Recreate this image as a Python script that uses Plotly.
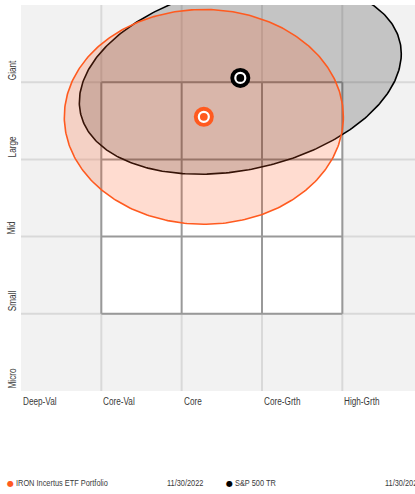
import numpy as np
import plotly.graph_objects as go

# ---- data ----
style_labels = ["Deep-Val", "Core-Val", "Core", "Core-Grth", "High-Grth"]
size_labels = ["Micro", "Small", "Mid", "Large", "Giant"]
series_names = ["IRON Incertus ETF Portfolio", "S&P 500 TR"]
series_dates = ["11/30/2022", "11/30/2022"]
centroid_x = [2.276, 2.730]
centroid_y = [3.551, 4.056]
spread_x = [1.737, 2.004]
spread_y = [1.391, 1.248]
spread_corr = [0.0, 0.251]

# ---- styles ----
ORANGE = "#ff5a1f"
BLACK = "#000000"
line_colors = [ORANGE, BLACK]
fill_colors = ["rgba(255,90,31,0.21)", "rgba(0,0,0,0.19)"]
FONT = "Liberation Sans, Arial, sans-serif"
TXT = "#3a3a3a"

W, H = 415, 494
ML, MR, MT, MB = 21, 0, 5, 103
pw, ph = W - ML - MR, H - MT - MB

fig = go.Figure()
t = np.linspace(0, 2 * np.pi, 361)


def ellipse(i):
    cx, cy, sx, sy, r = centroid_x[i], centroid_y[i], spread_x[i], spread_y[i], spread_corr[i]
    ex = cx + sx * np.cos(t)
    ey = cy + sy * (r * np.cos(t) + np.sqrt(1 - r * r) * np.sin(t))
    return ex, ey


for i in [1, 0]:
    ex, ey = ellipse(i)
    fig.add_trace(go.Scatter(x=ex, y=ey, mode="lines", fill="toself",
                             fillcolor=fill_colors[i],
                             line=dict(color=line_colors[i], width=1.6),
                             hoverinfo="skip", showlegend=False))

for i in [1, 0]:
    fig.add_trace(go.Scatter(x=[centroid_x[i]], y=[centroid_y[i]], mode="markers",
                             marker=dict(size=20, color=line_colors[i]),
                             showlegend=False, hoverinfo="skip", cliponaxis=False))
    fig.add_trace(go.Scatter(x=[centroid_x[i]], y=[centroid_y[i]], mode="markers",
                             marker=dict(size=10, color=line_colors[i],
                                         line=dict(color="white", width=2.2)),
                             showlegend=False, hoverinfo="skip", cliponaxis=False))

shapes = []
ncol = len(style_labels)
nrow = len(size_labels)
LIGHT = "#d9d9d9"
DARK = "#999999"
for k in range(1, ncol):
    shapes.append(dict(type="line", xref="x", yref="y", x0=k, x1=k, y0=0, y1=nrow,
                       line=dict(color=LIGHT, width=2), layer="below"))
for k in range(1, nrow):
    shapes.append(dict(type="line", xref="x", yref="y", x0=0, x1=ncol, y0=k, y1=k,
                       line=dict(color=LIGHT, width=2), layer="below"))
shapes.append(dict(type="rect", xref="x", yref="y", x0=1, x1=4, y0=1, y1=4,
                   fillcolor="white", line=dict(width=0), layer="below"))
for k in range(1, 5):
    shapes.append(dict(type="line", xref="x", yref="y", x0=k, x1=k, y0=1, y1=4,
                       line=dict(color=DARK, width=2), layer="below"))
    shapes.append(dict(type="line", xref="x", yref="y", x0=1, x1=4, y0=k, y1=k,
                       line=dict(color=DARK, width=2), layer="below"))

ann = []
for k, lab in enumerate(style_labels):
    ann.append(dict(x=k, y=0, xref="x", yref="y", text=lab, showarrow=False,
                    xanchor="left", yanchor="top", align="left", yshift=-3,
                    font=dict(family=FONT, size=10, color=TXT)))
for k, lab in enumerate(size_labels):
    ann.append(dict(x=0, y=k, xref="x", yref="y", text=lab, showarrow=False,
                    textangle=-90, xanchor="center", yanchor="bottom", align="left",
                    xshift=-9, font=dict(family=FONT, size=10, color=TXT)))


def px_x(v):
    return (v - ML) / pw


def px_y(v):
    return (H - MB - v) / ph


LEG_Y = 483
dot_x = [10.5, 229.5]
name_x = [14, 233]
date_x = [165, 383]
for i in range(2):
    ann.append(dict(x=px_x(dot_x[i]), y=px_y(LEG_Y), xref="paper", yref="paper", text="●",
                    showarrow=False, xanchor="center", yanchor="middle",
                    font=dict(family="DejaVu Sans", size=8, color=line_colors[i])))
    ann.append(dict(x=px_x(name_x[i]), y=px_y(LEG_Y), xref="paper", yref="paper",
                    text=series_names[i], showarrow=False, xanchor="left", yanchor="middle",
                    align="left", font=dict(family=FONT, size=9, color=TXT)))
    ann.append(dict(x=px_x(date_x[i]), y=px_y(LEG_Y), xref="paper", yref="paper",
                    text=series_dates[i], showarrow=False, xanchor="left", yanchor="middle",
                    align="left", font=dict(family=FONT, size=9, color=TXT)))

fig.update_layout(
    width=W, height=H,
    margin=dict(l=ML, r=MR, t=MT, b=MB),
    paper_bgcolor="white", plot_bgcolor="#f2f2f2",
    xaxis=dict(range=[0, pw / 80.33], showgrid=False, zeroline=False,
               showticklabels=False, fixedrange=True),
    yaxis=dict(range=[0, nrow], showgrid=False, zeroline=False,
               showticklabels=False, fixedrange=True),
    shapes=shapes, annotations=ann, showlegend=False,
)

post = """
document.body.style.margin = '0';
document.body.style.overflow = 'hidden';
var gd = document.querySelector('.plotly-graph-div');
gd.querySelectorAll('text.annotation-text').forEach(function(el){
  if (el.textContent.length < 2) return;
  var w = el.getComputedTextLength();
  el.setAttribute('textLength', (w * 0.82).toFixed(2));
  el.setAttribute('lengthAdjust', 'spacingAndGlyphs');
});
"""

fig.write_html("out.html", post_script=post, config={"displayModeBar": False})
